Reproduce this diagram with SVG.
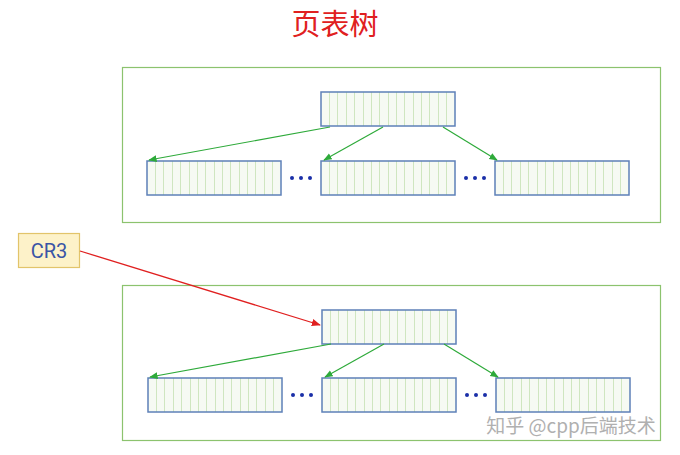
<svg xmlns="http://www.w3.org/2000/svg" width="680" height="455" viewBox="0 0 680 455">
<style>
.frame{fill:none;stroke:#8cc36e;stroke-width:1.2}
.edge{stroke:#2eaa3a;stroke-width:1.2;fill:none;marker-end:url(#ag)}
.dot{fill:#1a2fa8}
</style>
<defs>
<marker id="ag" viewBox="0 0 10 10" refX="9" refY="5" markerWidth="7" markerHeight="7" orient="auto"><path d="M0,1 L10,5 L0,9 z" fill="#2eaa3a"/></marker>
<marker id="ar" viewBox="0 0 10 10" refX="9" refY="5" markerWidth="7" markerHeight="7" orient="auto"><path d="M0,1 L10,5 L0,9 z" fill="#e02020"/></marker>
<g id="table">
<rect x="0" y="0" width="134" height="34" fill="#f6faf3"/>
<path d="M8.5,0V34M16.5,0V34M25.5,0V34M33.5,0V34M42.5,0V34M50.5,0V34M58.5,0V34M67.5,0V34M75.5,0V34M83.5,0V34M92.5,0V34M100.5,0V34M108.5,0V34M117.5,0V34M125.5,0V34" stroke="#cfe6c0" stroke-width="1"/>
<rect x="0" y="0" width="134" height="34" fill="none" stroke="#5d80b8" stroke-width="1.5"/>
</g>
</defs>
<rect width="680" height="455" fill="#ffffff"/>
<text x="335" y="35" text-anchor="middle" font-family="Noto Sans CJK SC, sans-serif" font-size="29" fill="#e02020">页表树</text>

<g id="tree-top">
<rect class="frame" x="122.5" y="67.5" width="538" height="155"/>
</g>
<g id="top-root"><use href="#table" x="321" y="92"/></g>
<g id="top-child-1"><use href="#table" x="147" y="161"/></g>
<g id="top-child-2"><use href="#table" x="321" y="161"/></g>
<g id="top-child-3"><use href="#table" x="495" y="161"/></g>
<g id="top-dots1"><circle class="dot" cx="292" cy="178" r="2"/><circle class="dot" cx="301" cy="178" r="2"/><circle class="dot" cx="310" cy="178" r="2"/></g>
<g id="top-dots2"><circle class="dot" cx="466" cy="178" r="2"/><circle class="dot" cx="475" cy="178" r="2"/><circle class="dot" cx="484" cy="178" r="2"/></g>

<g id="tree-bottom">
<rect class="frame" x="122.5" y="285.5" width="538" height="155"/>
</g>
<g id="bot-root"><use href="#table" x="322" y="310"/></g>
<g id="bot-child-1"><use href="#table" x="148" y="378"/></g>
<g id="bot-child-2"><use href="#table" x="322" y="378"/></g>
<g id="bot-child-3"><use href="#table" x="496" y="378"/></g>
<g id="bot-dots1"><circle class="dot" cx="293" cy="395" r="2"/><circle class="dot" cx="302" cy="395" r="2"/><circle class="dot" cx="311" cy="395" r="2"/></g>
<g id="bot-dots2"><circle class="dot" cx="467" cy="395" r="2"/><circle class="dot" cx="476" cy="395" r="2"/><circle class="dot" cx="485" cy="395" r="2"/></g>

<g id="cr3">
<rect x="18.5" y="233.5" width="61" height="34" fill="#fdf2c9" stroke="#e2c46a" stroke-width="1.2"/>
<text x="49" y="258" text-anchor="middle" font-family="Roboto, Liberation Sans, sans-serif" font-size="20" fill="#3a55a6">CR3</text>
</g>

<g id="connectors">
<line class="edge" x1="330" y1="127" x2="149" y2="160"/>
<line class="edge" x1="383" y1="127" x2="324" y2="160"/>
<line class="edge" x1="443" y1="127" x2="497" y2="160"/>
<line class="edge" x1="331" y1="344" x2="150" y2="377"/>
<line class="edge" x1="384" y1="344" x2="325" y2="377"/>
<line class="edge" x1="444" y1="344" x2="498" y2="377"/>
<line x1="80" y1="251" x2="320" y2="325" stroke="#e02020" stroke-width="1.3" marker-end="url(#ar)"/>
</g>

<text x="571" y="433" text-anchor="middle" font-family="Noto Sans CJK SC, sans-serif" font-size="19" fill="#b0b0b0">知乎 @cpp后端技术</text>
</svg>
